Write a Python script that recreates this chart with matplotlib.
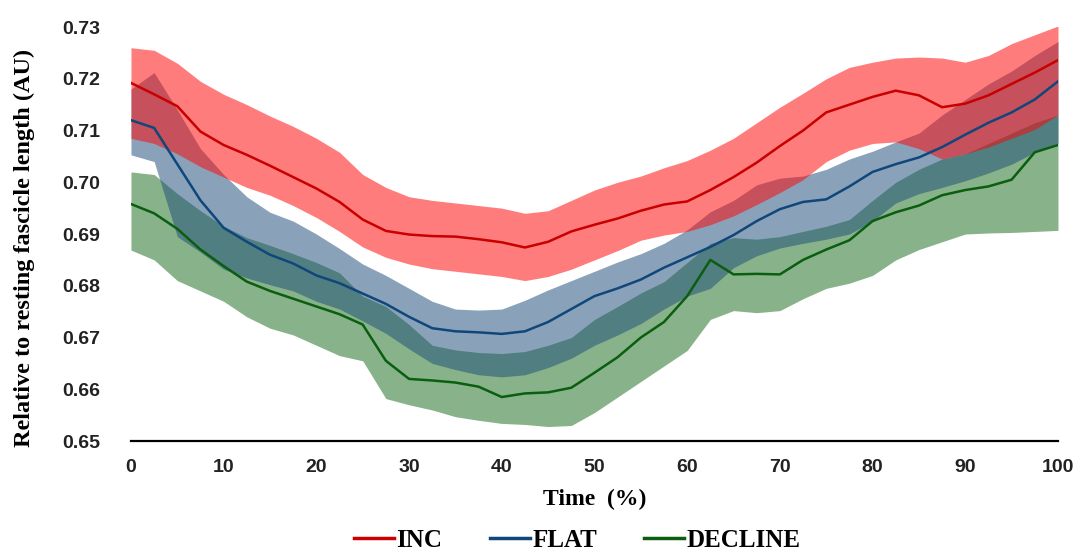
import numpy as np
import matplotlib
matplotlib.use('Agg')
import matplotlib.pyplot as plt
from matplotlib.lines import Line2D

# time grid (% of cycle), sampled every 2.5 %
time_pct = np.arange(0, 101, 2.5)

inc_mean = [0.7192, 0.7170, 0.7147, 0.7098, 0.7072, 0.7053, 0.7032, 0.7010, 0.6988, 0.6962,
            0.6928, 0.6906, 0.6899, 0.6896, 0.6895, 0.6890, 0.6884, 0.6874, 0.6885, 0.6905,
            0.6918, 0.6930, 0.6945, 0.6957, 0.6963, 0.6985, 0.7010, 0.7038, 0.7070, 0.7100,
            0.7135, 0.7150, 0.7165, 0.7177, 0.7168, 0.7145, 0.7152, 0.7168, 0.7190, 0.7212,
            0.7236]
inc_upper = [0.7260, 0.7255, 0.7230, 0.7195, 0.7170, 0.7150, 0.7128, 0.7108, 0.7085, 0.7058,
             0.7015, 0.6990, 0.6972, 0.6965, 0.6960, 0.6955, 0.6950, 0.6940, 0.6945, 0.6965,
             0.6985, 0.7000, 0.7012, 0.7028, 0.7042, 0.7062, 0.7085, 0.7115, 0.7145, 0.7172,
             0.7200, 0.7222, 0.7232, 0.7240, 0.7242, 0.7240, 0.7232, 0.7245, 0.7268, 0.7285,
             0.7302]
inc_lower = [0.7085, 0.7075, 0.7055, 0.7030, 0.7010, 0.6990, 0.6975, 0.6955, 0.6932, 0.6905,
             0.6875, 0.6855, 0.6842, 0.6833, 0.6828, 0.6823, 0.6818, 0.6810, 0.6818, 0.6832,
             0.6850, 0.6868, 0.6888, 0.6898, 0.6905, 0.6918, 0.6935, 0.6957, 0.6980, 0.7005,
             0.7040, 0.7062, 0.7075, 0.7078, 0.7065, 0.7045, 0.7055, 0.7068, 0.7085, 0.7102,
             0.7130]

flat_mean = [0.7120, 0.7105, 0.7035, 0.6965, 0.6912, 0.6885, 0.6860, 0.6843, 0.6820, 0.6805,
             0.6785, 0.6765, 0.6740, 0.6718, 0.6712, 0.6710, 0.6707, 0.6712, 0.6730, 0.6755,
             0.6780, 0.6795, 0.6812, 0.6835, 0.6855, 0.6875, 0.6898, 0.6925, 0.6948, 0.6962,
             0.6967, 0.6992, 0.7020, 0.7035, 0.7048, 0.7068, 0.7092, 0.7115, 0.7135, 0.7160,
             0.7195]
flat_upper = [0.7180, 0.7212, 0.7140, 0.7065, 0.7015, 0.6972, 0.6942, 0.6925, 0.6900, 0.6872,
              0.6842, 0.6820, 0.6795, 0.6770, 0.6755, 0.6753, 0.6755, 0.6772, 0.6792, 0.6810,
              0.6828, 0.6846, 0.6862, 0.6882, 0.6908, 0.6943, 0.6965, 0.6995, 0.7008, 0.7012,
              0.7025, 0.7045, 0.7060, 0.7078, 0.7095, 0.7130, 0.7160, 0.7190, 0.7215, 0.7245,
              0.7272]
flat_lower = [0.7053, 0.7040, 0.6895, 0.6865, 0.6832, 0.6815, 0.6802, 0.6790, 0.6770, 0.6755,
              0.6732, 0.6708, 0.6678, 0.6650, 0.6638, 0.6628, 0.6624, 0.6628, 0.6642, 0.6660,
              0.6685, 0.6705, 0.6727, 0.6755, 0.6780, 0.6795, 0.6835, 0.6858, 0.6873, 0.6882,
              0.6890, 0.6900, 0.6925, 0.6960, 0.6978, 0.6990, 0.7003, 0.7018, 0.7035, 0.7058,
              0.7076]

decline_mean = [0.6958, 0.6940, 0.6910, 0.6870, 0.6838, 0.6808, 0.6790, 0.6775, 0.6760, 0.6745,
                0.6725, 0.6655, 0.6620, 0.6617, 0.6613, 0.6605, 0.6585, 0.6592, 0.6594, 0.6603,
                0.6632, 0.6662, 0.6700, 0.6730, 0.6780, 0.6850, 0.6822, 0.6823, 0.6822, 0.6850,
                0.6870, 0.6888, 0.6925, 0.6942, 0.6955, 0.6975, 0.6985, 0.6992, 0.7005, 0.7058,
                0.7072]
decline_upper = [0.7020, 0.7015, 0.6978, 0.6945, 0.6915, 0.6893, 0.6878, 0.6862, 0.6845, 0.6825,
                 0.6780, 0.6760, 0.6725, 0.6685, 0.6676, 0.6671, 0.6669, 0.6673, 0.6685, 0.6700,
                 0.6735, 0.6760, 0.6786, 0.6808, 0.6845, 0.6882, 0.6893, 0.6890, 0.6895, 0.6905,
                 0.6915, 0.6928, 0.6965, 0.7000, 0.7025, 0.7045, 0.7055, 0.7075, 0.7095, 0.7115,
                 0.7130]
decline_lower = [0.6869, 0.6850, 0.6810, 0.6790, 0.6770, 0.6740, 0.6718, 0.6705, 0.6685, 0.6665,
                 0.6655, 0.6582, 0.6570, 0.6560, 0.6547, 0.6540, 0.6534, 0.6532, 0.6528, 0.6530,
                 0.6555, 0.6585, 0.6615, 0.6645, 0.6675, 0.6735, 0.6752, 0.6748, 0.6752, 0.6775,
                 0.6795, 0.6805, 0.6820, 0.6850, 0.6870, 0.6885, 0.6900, 0.6902, 0.6903, 0.6905,
                 0.6907]

y_ticks = [0.65, 0.66, 0.67, 0.68, 0.69, 0.70, 0.71, 0.72, 0.73]
x_ticks = [0, 10, 20, 30, 40, 50, 60, 70, 80, 90, 100]

sans = ['Liberation Sans Narrow', 'Liberation Sans', 'DejaVu Sans']
serif = ['Liberation Serif', 'DejaVu Serif']

fig = plt.figure(figsize=(10.85, 5.56), dpi=100)
ax = fig.add_axes([0.1207, 0.2068, 0.8544, 0.7446])

# drawn DECLINE first so FLAT and INC sit on top (band then line)
series = [
    ('DECLINE', decline_mean, decline_lower, decline_upper, '#1b6e1f', '#0b5e10'),
    ('FLAT', flat_mean, flat_lower, flat_upper, '#1f4e79', '#10477a'),
    ('INC', inc_mean, inc_lower, inc_upper, '#ff0505', '#c80000'),
]
for name, m, lo, hi, fc, lc in series:
    ax.fill_between(time_pct, lo, hi, color=fc, alpha=0.52, lw=0)
    ax.plot(time_pct, m, color=lc, lw=1.8)

ax.set_xlim(0, 100)
ax.set_ylim(0.65, 0.73)
ax.set_xticks(x_ticks)
ax.set_yticks(y_ticks)
ax.set_yticklabels([f'{v:.2f}' for v in y_ticks])
for s in ['top', 'right', 'left']:
    ax.spines[s].set_visible(False)
ax.spines['bottom'].set_linewidth(1.6)
ax.spines['bottom'].set_color('black')
ax.tick_params(axis='both', length=0)
ax.tick_params(axis='y', pad=22)
ax.tick_params(axis='x', pad=13)
for lab in ax.get_xticklabels() + ax.get_yticklabels():
    lab.set_fontfamily(sans)
    lab.set_fontweight('bold')
    lab.set_fontsize(14)
    lab.set_color('#222222')

ax.set_xlabel('Time  (%)', fontfamily=serif, fontweight='bold', fontsize=17)
ax.xaxis.set_label_coords(0.5, -0.115)
ax.set_ylabel('Relative to resting fascicle length (AU)', fontfamily=serif,
              fontweight='bold', fontsize=17.5)
ax.yaxis.set_label_coords(-0.104, 0.466)

handles = [Line2D([0], [0], color='#c80000', lw=2.5),
           Line2D([0], [0], color='#10477a', lw=2.5),
           Line2D([0], [0], color='#0b5e10', lw=2.5)]
fig.legend(handles, ['INC', 'FLAT', 'DECLINE'], loc='center', ncol=3,
           bbox_to_anchor=(0.532, 0.028), frameon=False, handlelength=1.6,
           handletextpad=0.1, columnspacing=1.9,
           prop={'family': serif, 'weight': 'bold', 'size': 18})

fig.savefig('out.png', dpi=100)
